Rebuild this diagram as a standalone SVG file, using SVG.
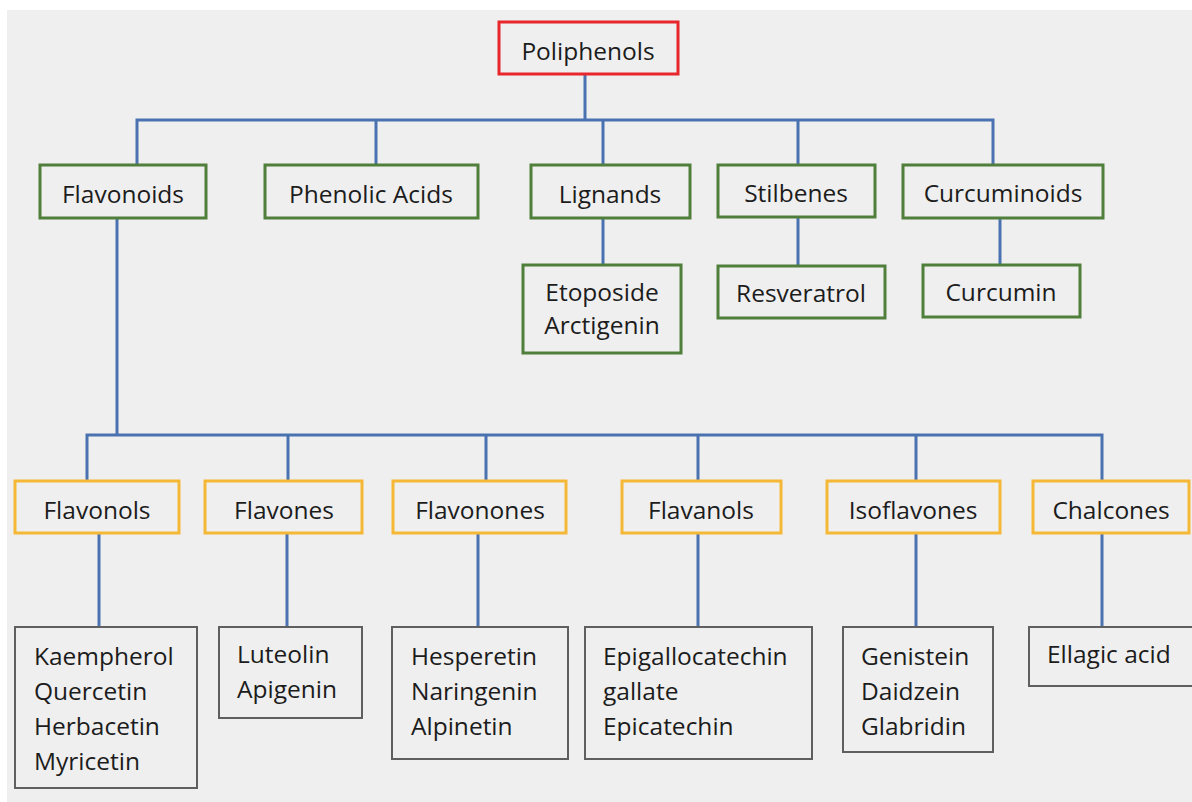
<svg xmlns="http://www.w3.org/2000/svg" width="1192" height="802" viewBox="0 0 1192 802">
<style>
text{font-family:"Open Sans","Liberation Sans",sans-serif;font-size:24.5px;fill:#1c1c1c;}
.c{text-anchor:middle;}
.box{fill:#efefef;stroke-width:3;}
.red{stroke:#e8262b;}
.grn{stroke:#4f7f3a;}
.org{stroke:#f5b836;}
.gry{stroke:#5f5f5f;stroke-width:2;}
.ln{fill:none;stroke:#4a72b0;stroke-width:3;}
</style>
<rect x="0" y="0" width="1192" height="802" fill="#ffffff"/>
<rect x="7" y="10" width="1185" height="792" fill="#efefef"/>
<g id="connectors">
<path class="ln" d="M585 74V120M137 165V120H993V165M376 120V165M603 120V165M798 120V165"/>
<path class="ln" d="M603 218V265M798 217V266M1000 218V265"/>
<path class="ln" d="M117 218V435M87 481V435H1102V481M288 435V481M486 435V481M698 435V481M916 435V481"/>
<path class="ln" d="M99 533V627M287 533V627M478 533V627M698 533V627M916 533V627M1102 533V627"/>
</g>
<g id="poliphenols"><rect class="box red" x="499" y="22" width="179" height="52"/><text class="c" x="588" y="60">Poliphenols</text></g>
<g id="flavonoids"><rect class="box grn" x="40" y="165" width="166" height="53"/><text class="c" x="123" y="203">Flavonoids</text></g>
<g id="phenolic-acids"><rect class="box grn" x="265" y="165" width="213" height="53"/><text class="c" x="371" y="203">Phenolic Acids</text></g>
<g id="lignands"><rect class="box grn" x="531" y="165" width="159" height="53"/><text class="c" x="610" y="203">Lignands</text></g>
<g id="stilbenes"><rect class="box grn" x="718" y="165" width="157" height="52"/><text class="c" x="796" y="202">Stilbenes</text></g>
<g id="curcuminoids"><rect class="box grn" x="903" y="165" width="200" height="53"/><text class="c" x="1003" y="202">Curcuminoids</text></g>
<g id="etoposide"><rect class="box grn" x="523" y="265" width="158" height="88"/><text class="c" x="602" y="301">Etoposide</text><text class="c" x="602" y="334">Arctigenin</text></g>
<g id="resveratrol"><rect class="box grn" x="718" y="266" width="167" height="52"/><text class="c" x="801" y="302">Resveratrol</text></g>
<g id="curcumin"><rect class="box grn" x="923" y="265" width="157" height="52"/><text class="c" x="1001" y="301">Curcumin</text></g>
<g id="flavonols"><rect class="box org" x="15" y="481" width="164" height="52"/><text class="c" x="97" y="519">Flavonols</text></g>
<g id="flavones"><rect class="box org" x="205" y="481" width="157" height="52"/><text class="c" x="284" y="519">Flavones</text></g>
<g id="flavonones"><rect class="box org" x="393" y="481" width="173" height="52"/><text class="c" x="480" y="519">Flavonones</text></g>
<g id="flavanols"><rect class="box org" x="622" y="481" width="159" height="52"/><text class="c" x="701" y="519">Flavanols</text></g>
<g id="isoflavones"><rect class="box org" x="827" y="481" width="173" height="52"/><text class="c" x="913" y="519">Isoflavones</text></g>
<g id="chalcones"><rect class="box org" x="1033" y="481" width="156" height="52"/><text class="c" x="1111" y="519">Chalcones</text></g>
<g id="kaempherol"><rect class="box gry" x="15" y="627" width="182" height="161"/><text x="34" y="665">Kaempherol</text><text x="34" y="700">Quercetin</text><text x="34" y="735">Herbacetin</text><text x="34" y="770">Myricetin</text></g>
<g id="luteolin"><rect class="box gry" x="219" y="627" width="143" height="91"/><text x="237" y="663">Luteolin</text><text x="237" y="698">Apigenin</text></g>
<g id="hesperetin"><rect class="box gry" x="392" y="627" width="176" height="132"/><text x="411" y="665">Hesperetin</text><text x="411" y="700">Naringenin</text><text x="411" y="735">Alpinetin</text></g>
<g id="epigallocatechin"><rect class="box gry" x="585" y="627" width="227" height="132"/><text x="603" y="665">Epigallocatechin</text><text x="603" y="700">gallate</text><text x="603" y="735">Epicatechin</text></g>
<g id="genistein"><rect class="box gry" x="843" y="627" width="150" height="125"/><text x="861" y="665">Genistein</text><text x="861" y="700">Daidzein</text><text x="861" y="735">Glabridin</text></g>
<g id="ellagic"><rect class="box gry" x="1029" y="627" width="170" height="59"/><text x="1047" y="663">Ellagic acid</text></g>
</svg>
